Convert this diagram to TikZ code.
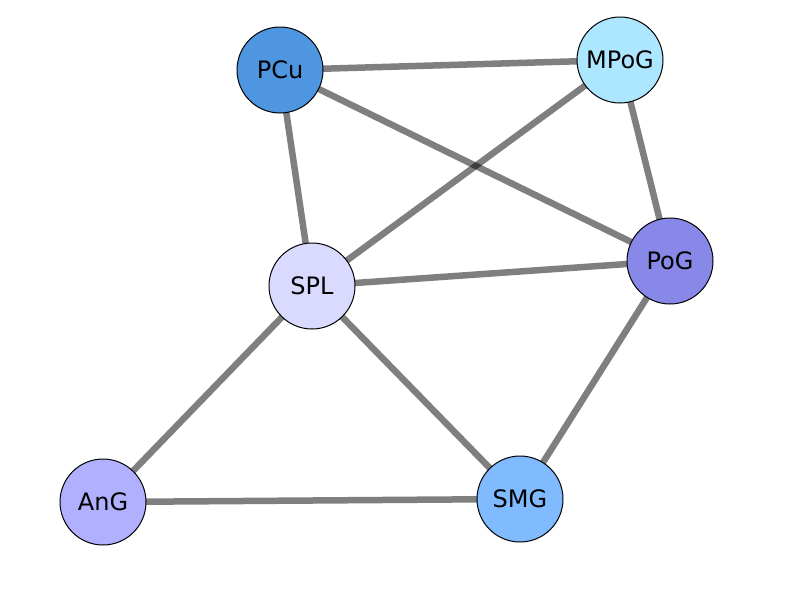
\documentclass[tikz,border=0pt]{standalone}
\usepackage{fontspec}
\setmainfont{DejaVu Sans}
\definecolor{cPCu}{HTML}{4F96E0}
\definecolor{cMPoG}{HTML}{ADE6FF}
\definecolor{cPoG}{HTML}{8888E8}
\definecolor{cSPL}{HTML}{DADAFF}
\definecolor{cAnG}{HTML}{B0B0FF}
\definecolor{cSMG}{HTML}{80BBFF}
\pgfdeclarelayer{bg}
\pgfsetlayers{bg,main}
\begin{document}
\begin{tikzpicture}[x=1pt,y=-1pt,
  region/.style={circle, draw=black, line width=1pt, minimum size=86pt, inner sep=0pt,
    font=\fontsize{24}{28}\selectfont},
  link/.style={draw=black, draw opacity=0.5, line width=6.5pt}]
  \useasboundingbox (0,0) rectangle (800,600);
  % graph nodes
  \node[region, fill=cPCu]  (PCu)  at (280,70)  {PCu};
  \node[region, fill=cMPoG] (MPoG) at (620,60)  {MPoG};
  \node[region, fill=cPoG]  (PoG)  at (670,261) {PoG};
  \node[region, fill=cSPL]  (SPL)  at (312,286) {SPL};
  \node[region, fill=cAnG]  (AnG)  at (103,502) {AnG};
  \node[region, fill=cSMG]  (SMG)  at (520,499) {SMG};
  % edges, drawn behind the nodes
  \begin{pgfonlayer}{bg}
    \draw[link] (PCu.center) -- (MPoG.center);
    \draw[link] (PCu.center) -- (PoG.center);
    \draw[link] (PCu.center) -- (SPL.center);
    \draw[link] (MPoG.center) -- (SPL.center);
    \draw[link] (MPoG.center) -- (PoG.center);
    \draw[link] (SPL.center) -- (PoG.center);
    \draw[link] (SPL.center) -- (AnG.center);
    \draw[link] (SPL.center) -- (SMG.center);
    \draw[link] (AnG.center) -- (SMG.center);
    \draw[link] (PoG.center) -- (SMG.center);
  \end{pgfonlayer}
\end{tikzpicture}
\end{document}
